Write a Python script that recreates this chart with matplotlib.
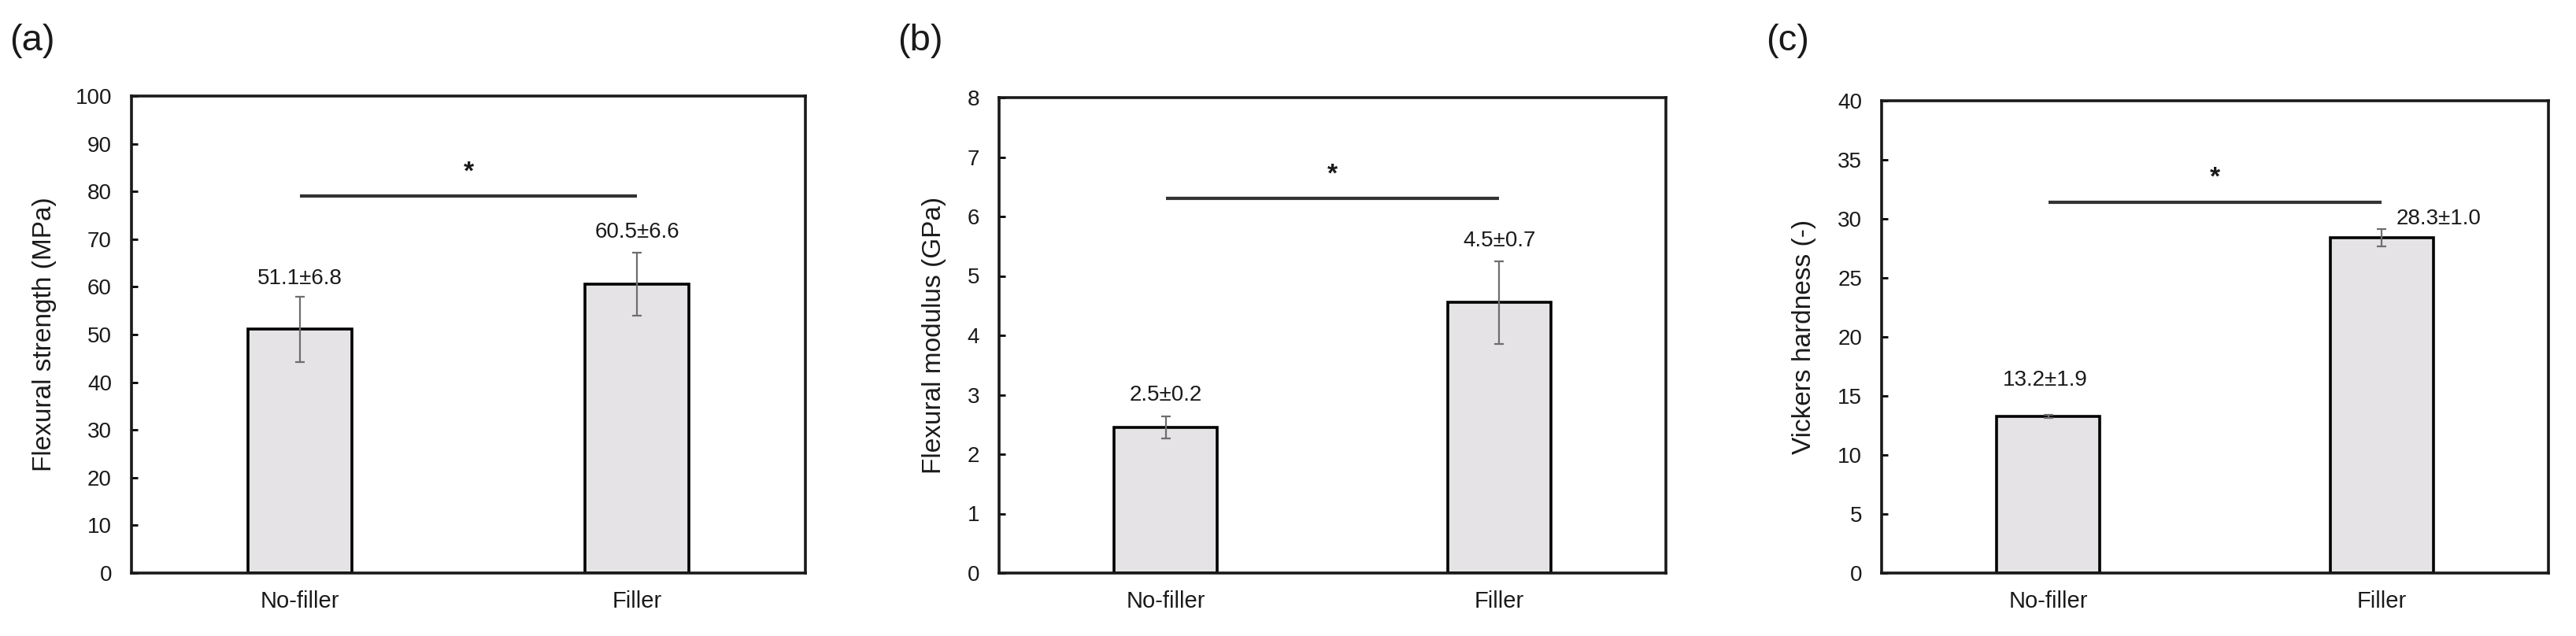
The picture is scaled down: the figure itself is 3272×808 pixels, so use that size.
import matplotlib
matplotlib.use('Agg')
import matplotlib.pyplot as plt

plt.rcParams['font.family'] = ['Liberation Sans', 'DejaVu Sans']

# data
groups = ['No-filler', 'Filler']

strength_mean = [51.1, 60.5]
strength_err = [6.8, 6.6]
strength_labels = ['51.1±6.8', '60.5±6.6']

modulus_mean = [2.45, 4.55]
modulus_err = [0.19, 0.69]
modulus_labels = ['2.5±0.2', '4.5±0.7']

hardness_mean = [13.25, 28.4]
hardness_err = [0.12, 0.75]
hardness_labels = ['13.2±1.9', '28.3±1.0']

W, H = 3273, 808
fig = plt.figure(figsize=(W / 100, H / 100), dpi=100)

bar_color = '#E5E3E5'
err_color = '#6E6E6E'
text_color = '#1a1a1a'


def px_axes(left, right, top, bottom):
    return fig.add_axes([left / W, 1 - bottom / H, (right - left) / W, (bottom - top) / H])


def draw_panel(ax, means, errs, labels, ymax, ystep, ylabel, bracket_y,
               label_offsets, ylabel_x):
    x = list(range(len(groups)))
    ax.bar(x, means, width=0.31, color=bar_color, edgecolor='black', linewidth=2.6, zorder=2)
    ax.errorbar(x, means, yerr=errs, fmt='none', ecolor=err_color, elinewidth=1.6,
                capsize=4, capthick=1.6, zorder=3)
    for xi, m, e, lab, (dx, dy) in zip(x, means, errs, labels, label_offsets):
        ax.annotate(lab, (xi, m + e), xytext=(dx, dy), textcoords='offset points',
                    ha='center', va='center', fontsize=20, color=text_color)
    # significance bracket
    ax.plot([0, 1], [bracket_y, bracket_y], color='#333333', lw=3, solid_capstyle='butt')
    ax.annotate('*', (0.5, bracket_y), xytext=(0, 22), textcoords='offset points',
                ha='center', va='center', fontsize=24, fontweight='bold', color=text_color)

    ax.set_xlim(-0.5, 1.5)
    ax.set_ylim(0, ymax)
    ax.set_yticks([ystep * i for i in range(int(round(ymax / ystep)) + 1)])
    ax.set_xticks(x)
    ax.set_xticklabels(groups, fontsize=21, color=text_color)
    ax.tick_params(axis='y', direction='in', length=6, width=2, labelsize=20, pad=18,
                   labelcolor=text_color)
    ax.tick_params(axis='x', length=0, pad=16)
    for s in ax.spines.values():
        s.set_linewidth(2.6)
        s.set_color('#1a1a1a')
    ax.set_ylabel(ylabel, fontsize=24, color=text_color)
    ax.yaxis.set_label_coords(ylabel_x, 0.5)


ax_a = px_axes(167, 1023, 122, 728)
draw_panel(ax_a, strength_mean, strength_err, strength_labels, 100, 10,
           'Flexural strength (MPa)', 79, [(0, 17), (0, 19)], -0.111)

ax_b = px_axes(1269, 2116, 124, 728)
draw_panel(ax_b, modulus_mean, modulus_err, modulus_labels, 8, 1,
           'Flexural modulus (GPa)', 6.3, [(0, 19), (0, 19)], -0.079)

ax_c = px_axes(2390, 3237, 128, 728)
draw_panel(ax_c, hardness_mean, hardness_err, hardness_labels, 40, 5,
           'Vickers hardness (-)', 31.4, [(-3, 32), (52, 9)], -0.098)

for lab, xpx in [('(a)', 12), ('(b)', 1140), ('(c)', 2243)]:
    fig.text(xpx / W, 1 - 52 / H, lab, fontsize=34, ha='left', va='center', color=text_color)

fig.savefig('out.png', dpi=100)
